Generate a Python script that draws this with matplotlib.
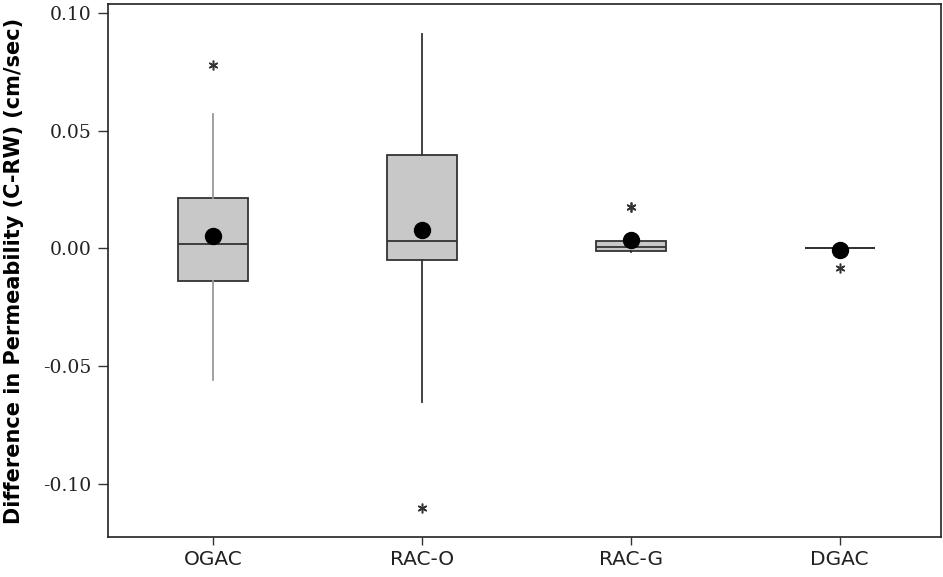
import matplotlib
matplotlib.use("Agg")
import matplotlib.pyplot as plt
import numpy as np

categories = ["OGAC", "RAC-O", "RAC-G", "DGAC"]
whislo = [-0.056, -0.0653, -0.0017, 0.0]
q1 = [-0.014, -0.0047, -0.0012, 0.0]
median = [0.0021, 0.003, 0.0008, 0.0]
q3 = [0.0216, 0.0398, 0.003, 0.0]
whishi = [0.0572, 0.0911, 0.003, 0.0]
means = [0.0055, 0.008, 0.0034, -0.0008]
outliers = [[0.078], [-0.110], [0.0174, 0.0178], [-0.0085]]

stats = []
for i, c in enumerate(categories):
    stats.append(dict(label=c, whislo=whislo[i], q1=q1[i], med=median[i],
                      q3=q3[i], whishi=whishi[i], mean=means[i], fliers=outliers[i]))

fig = plt.figure(figsize=(9.43, 5.77), dpi=100)
ax = fig.add_axes([108/943, 1 - 537/577, (941 - 108)/943, (537 - 4)/577])

pos = np.arange(1, len(categories) + 1)
bp = ax.bxp(stats, positions=pos, widths=0.335, patch_artist=True,
            showmeans=True, showcaps=False,
            boxprops=dict(facecolor="#c8c8c8", edgecolor="#333333", linewidth=1.3),
            medianprops=dict(color="#333333", linewidth=1.3),
            whiskerprops=dict(color="#333333", linewidth=1.3),
            meanprops=dict(marker="o", markerfacecolor="black", markeredgecolor="black",
                           markersize=11.5),
            flierprops=dict(marker=(6, 2, 0), markeredgecolor="#333333",
                            markersize=7, linewidth=1, markeredgewidth=1.1))

# OGAC whiskers look lighter
for w in bp["whiskers"][:2]:
    w.set_color("#999999")

ax.set_xlim(0.498, 4.485)
ax.set_ylim(-0.1225, 0.1038)
ax.set_xticks(pos)
ax.set_xticklabels(categories, fontsize=14.5, color="#222222", family="DejaVu Sans")
ax.set_yticks([-0.10, -0.05, 0.00, 0.05, 0.10])
ax.set_yticklabels(["-0.10", "-0.05", "0.00", "0.05", "0.10"],
                   fontsize=13.5, family="DejaVu Serif", color="#222222")
ax.tick_params(direction="out", length=6, width=1, color="#333333")
ax.tick_params(axis="y", length=7, pad=5)
ax.set_ylabel("Difference in Permeability (C-RW) (cm/sec)", fontsize=15,
              fontweight="bold", family="DejaVu Sans", labelpad=14)
for s in ax.spines.values():
    s.set_linewidth(1.2)
    s.set_color("#222222")

fig.savefig("out.png", dpi=100)
